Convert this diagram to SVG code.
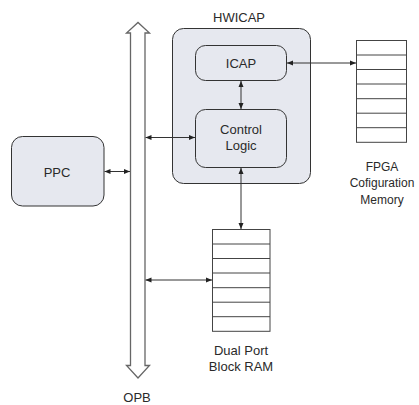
<svg xmlns="http://www.w3.org/2000/svg" width="419" height="405" viewBox="0 0 419 405">
<defs>
<style>
text{font-family:"Liberation Sans",Arial,sans-serif;font-size:13px;fill:#2a2a2a;text-anchor:middle}
.sm{font-size:12px}
.box{fill:#e6e8ef;stroke:#333;stroke-width:1}
.mem{fill:#fff;stroke:#444;stroke-width:1}
.row{stroke:#444;stroke-width:1}
.bus{fill:#fff;stroke:#666;stroke-width:1.3}
.con{fill:none;stroke:#333;stroke-width:1;marker-start:url(#ah);marker-end:url(#ah)}
</style>
<marker id="ah" viewBox="0 0 6 6" refX="6" refY="3" markerWidth="6" markerHeight="6" markerUnits="userSpaceOnUse" orient="auto-start-reverse">
<path d="M0,0.5 L6,3 L0,5.5 Z" fill="#222"/>
</marker>
</defs>
<g id="opb">
<path class="bus" d="M130.5,365.5 L130.5,33 L126.5,33 L138,22.5 L149.5,33 L145,33 L145,365.5 L149.5,365.5 L138,378 L126.5,365.5 Z"/>
<text x="137" y="402">OPB</text>
</g>
<g id="hwicap">
<rect class="box" x="172.5" y="28.5" width="138" height="155" rx="11"/>
<text x="239" y="21.5">HWICAP</text>
</g>
<g id="icap">
<rect class="box" x="195.5" y="45.5" width="91" height="35" rx="10"/>
<text x="241" y="68">ICAP</text>
</g>
<g id="control">
<rect class="box" x="195.5" y="109.5" width="91" height="58" rx="10"/>
<text x="241" y="133.5">Control</text>
<text x="241" y="149.5">Logic</text>
</g>
<g id="ppc">
<rect class="box" x="11.5" y="136.5" width="92.5" height="69.5" rx="11"/>
<text x="57" y="176.5">PPC</text>
</g>
<g id="fpga-mem">
<rect class="mem" x="356.5" y="40.5" width="50" height="101.8"/>
<path class="row" d="M356.5,55 H406.5 M356.5,69.5 H406.5 M356.5,84 H406.5 M356.5,98.7 H406.5 M356.5,113.2 H406.5 M356.5,127.7 H406.5"/>
<text class="sm" x="382" y="170.5">FPGA</text>
<text class="sm" x="382" y="187">Cofiguration</text>
<text class="sm" x="382" y="203.5">Memory</text>
</g>
<g id="bram">
<rect class="mem" x="212.5" y="229.5" width="57.5" height="101.8"/>
<path class="row" d="M212.5,244 H270 M212.5,258.5 H270 M212.5,273 H270 M212.5,287.7 H270 M212.5,302.2 H270 M212.5,316.7 H270"/>
<text x="241" y="355">Dual Port</text>
<text x="241" y="371">Block RAM</text>
</g>
<g id="connectors">
<path class="con" d="M104.5,171.5 H130"/>
<path class="con" d="M145.5,137.5 H195"/>
<path class="con" d="M241,81 V109"/>
<path class="con" d="M287,63 H356"/>
<path class="con" d="M241,168 V229"/>
<path class="con" d="M145.5,280 H212"/>
</g>
</svg>
